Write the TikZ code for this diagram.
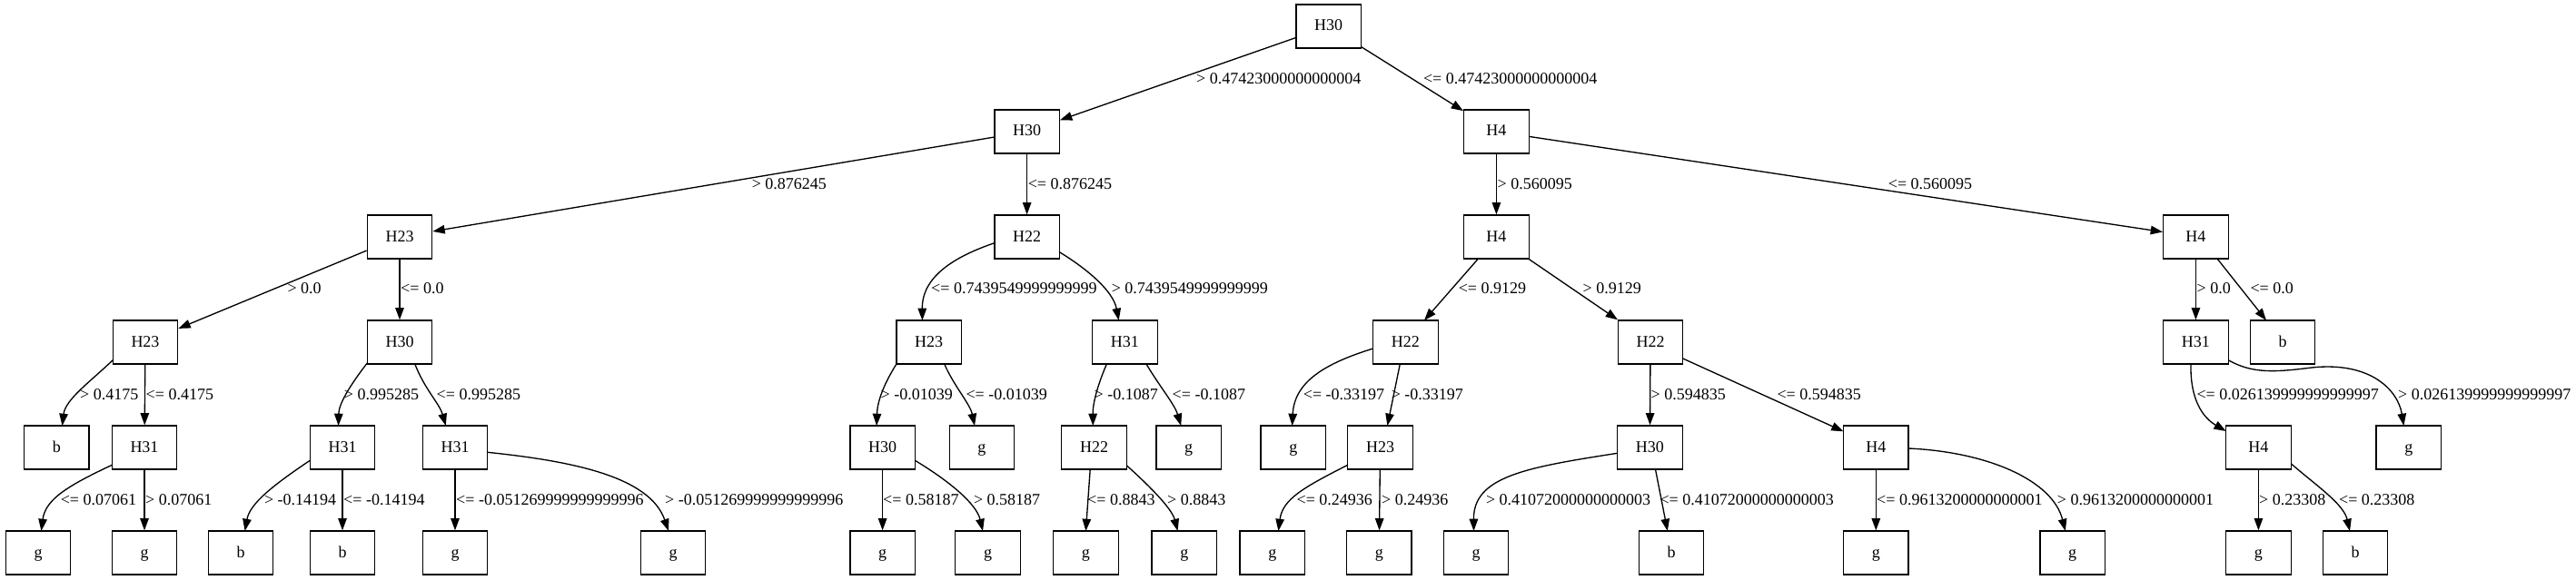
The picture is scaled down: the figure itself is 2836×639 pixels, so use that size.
\documentclass[tikz,border=0pt]{standalone}
\usepackage{fontspec}
\setmainfont{Liberation Serif}
\usetikzlibrary{arrows.meta,calc}
\tikzset{
  box/.style={draw, line width=1.33pt, minimum width=71.5pt, minimum height=48pt, inner sep=0pt,
    text height=12pt, text depth=2pt, font=\fontsize{18}{22}\selectfont},
  edge/.style={draw, line width=1.33pt, -{Triangle[length=13.3pt,width=9.5pt]}},
  lbl/.style={anchor=west, inner sep=0pt, text height=12.2pt, text depth=0pt, font=\fontsize{18}{22}\selectfont},
}
\begin{document}
\begin{tikzpicture}[x=1pt,y=-1pt]
\useasboundingbox (0,0) rectangle (2836,639);
% level 0
\node[box] (n0) at (1462.6,29) {H30};
% level 1
\node[box] (n1) at (1130.6,145) {H30};
\node[box] (n2) at (1647.4,145) {H4};
% level 2
\node[box] (n3) at (440,261) {H23};
\node[box] (n4) at (1130.6,261) {H22};
\node[box] (n5) at (1647.4,261) {H4};
\node[box] (n6) at (2417.4,261) {H4};
% level 3
\node[box] (n7) at (160,377) {H23};
\node[box] (n8) at (440,377) {H30};
\node[box] (n9) at (1022.7,377) {H23};
\node[box] (n10) at (1238.4,377) {H31};
\node[box] (n11) at (1547.4,377) {H22};
\node[box] (n12) at (1817,377) {H22};
\node[box] (n13) at (2417.4,377) {H31};
\node[box] (n14) at (2513,377) {b};
% level 4
\node[box] (n15) at (62.4,493) {b};
\node[box] (n16) at (159,493) {H31};
\node[box] (n17) at (377,493) {H31};
\node[box] (n18) at (501,493) {H31};
\node[box] (n19) at (971.6,493) {H30};
\node[box] (n20) at (1080.9,493) {g};
\node[box] (n21) at (1204.5,493) {H22};
\node[box] (n22) at (1308.7,493) {g};
\node[box] (n23) at (1423.8,493) {g};
\node[box] (n24) at (1519.5,493) {H23};
\node[box] (n25) at (1816.4,493) {H30};
\node[box] (n26) at (2065.3,493) {H4};
\node[box] (n27) at (2486.4,493) {H4};
\node[box] (n28) at (2651.8,493) {g};
% level 5
\node[box] (n29) at (42,609) {g};
\node[box] (n30) at (159,609) {g};
\node[box] (n31) at (265,609) {b};
\node[box] (n32) at (377,609) {b};
\node[box] (n33) at (501,609) {g};
\node[box] (n34) at (741,609) {g};
\node[box] (n35) at (971.6,609) {g};
\node[box] (n36) at (1087.5,609) {g};
\node[box] (n37) at (1195.4,609) {g};
\node[box] (n38) at (1303.8,609) {g};
\node[box] (n39) at (1400.8,609) {g};
\node[box] (n40) at (1518.3,609) {g};
\node[box] (n41) at (1625,609) {g};
\node[box] (n42) at (1840,609) {b};
\node[box] (n43) at (2065.3,609) {g};
\node[box] (n44) at (2281.6,609) {g};
\node[box] (n45) at (2486.4,609) {g};
\node[box] (n46) at (2593,609) {b};

% ---- edges level 0 -> 1
\draw[edge] (n0) -- (n1);
\node[lbl] (l1) at (1317,86.5) {> 0.47423000000000004};
\draw[edge] (n0) -- (n2);
\node[lbl] (l2) at (1566.8,86.5) {<= 0.47423000000000004};
% ---- level 1 -> 2
\draw[edge] (n1) -- (n3);
\node[lbl] (l3) at (827.6,202.3) {> 0.876245};
\draw[edge] (n1) -- (n4);
\node[lbl] (l4) at (1131.6,202.3) {<= 0.876245};
\draw[edge] (n2) -- (n5);
\node[lbl] (l5) at (1648.4,202.3) {> 0.560095};
\draw[edge] (n2) -- (n6);
\node[lbl] (l6) at (2078.7,202.3) {<= 0.560095};
% ---- level 2 -> 3
\draw[edge] (n3) -- (n7);
\node[lbl] (l7) at (316.3,317) {> 0.0};
\draw[edge] (n3) -- (n8);
\node[lbl] (l8) at (441,317) {<= 0.0};
\draw[edge] ($(n4)+(-35.75,6.7)$) .. controls (1050,283) and (1015,305) .. ($(n9)+(-7.3,-24)$);
\node[lbl] (l9) at (1025,317) {<= 0.7439549999999999};
\draw[edge] ($(n4)+(35.75,16.7)$) .. controls (1190,292) and (1225,318) .. ($(n10)+(-6.7,-24)$);
\node[lbl] (l10) at (1223.6,317) {> 0.7439549999999999};
\draw[edge] ($(n5)+(-20,24)$) -- ($(n11)+(20.6,-24)$);
\node[lbl] (l11) at (1605.6,317) {<= 0.9129};
\draw[edge] (n5) -- (n12);
\node[lbl] (l12) at (1742.5,317) {> 0.9129};
\draw[edge] (n6) -- (n13);
\node[lbl] (l13) at (2418.4,317) {> 0.0};
\draw[edge] ($(n6)+(23.6,24)$) -- ($(n14)+(-18,-24)$);
\node[lbl] (l14) at (2477.3,317) {<= 0.0};
% ---- level 3 -> 4
\draw[edge] ($(n7)+(-35.75,19.7)$) .. controls (100,420) and (72,440) .. ($(n15)+(6.1,-24)$);
\node[lbl] (l15) at (87.9,434.3) {> 0.4175};
\draw[edge] (n7) -- (n16);
\node[lbl] (l16) at (160.5,434.3) {<= 0.4175};
\draw[edge] ($(n8)+(-35.75,23)$) .. controls (385,425) and (373,445) .. ($(n17)+(-4.4,-24)$);
\node[lbl] (l17) at (378.7,434.3) {> 0.995285};
\draw[edge] ($(n8)+(16.8,24)$) .. controls (467,428) and (484,445) .. ($(n18)+(-10.2,-24)$);
\node[lbl] (l18) at (480.5,434.3) {<= 0.995285};
\draw[edge] ($(n9)+(-35.75,24)$) .. controls (975,420) and (966,440) .. ($(n19)+(-6.5,-24)$);
\node[lbl] (l19) at (969.4,434.3) {> -0.01039};
\draw[edge] ($(n9)+(17,24)$) .. controls (1050,425) and (1068,445) .. ($(n20)+(-7.9,-24)$);
\node[lbl] (l20) at (1063.3,434.3) {<= -0.01039};
\draw[edge] ($(n10)+(-20,24)$) .. controls (1208,425) and (1203,445) .. ($(n21)+(-1.2,-24)$);
\node[lbl] (l21) at (1204.5,434.3) {> -0.1087};
\draw[edge] ($(n10)+(23.6,24)$) .. controls (1276,425) and (1293,445) .. ($(n22)+(-8.5,-24)$);
\node[lbl] (l22) at (1290.5,434.3) {<= -0.1087};
\draw[edge] ($(n11)+(-35.75,7)$) .. controls (1460,400) and (1425,420) .. ($(n23)+(-1.2,-24)$);
\node[lbl] (l23) at (1434.7,434.3) {<= -0.33197};
\draw[edge] ($(n11)+(-6.1,24)$) -- ($(n24)+(7.9,-24)$);
\node[lbl] (l24) at (1531.6,434.3) {> -0.33197};
\draw[edge] (n12) -- (n25);
\node[lbl] (l25) at (1817.5,434.3) {> 0.594835};
\draw[edge] ($(n12)+(35.75,18)$) -- ($(n26)+(-35.75,-17.7)$);
\node[lbl] (l26) at (1956.3,434.3) {<= 0.594835};
\draw[edge] ($(n13)+(-5.4,24)$) .. controls (2411,440) and (2425,460) .. ($(n27)+(-35.75,-18)$);
\node[lbl] (l27) at (2418.3,434.3) {<= 0.026139999999999997};
\draw[edge] ($(n13)+(35.75,19.7)$) .. controls (2480,412) and (2505,410) .. (2545,405)
  .. controls (2610,398) and (2640,430) .. ($(n28)+(-5.4,-24)$);
\node[lbl] (l28) at (2640,434.3) {> 0.026139999999999997};
% ---- level 4 -> 5
\draw[edge] ($(n16)+(-35.75,19.3)$) .. controls (75,535) and (50,550) .. ($(n29)+(3.4,-24)$);
\node[lbl] (l29) at (66.6,550) {<= 0.07061};
\draw[edge] (n16) -- (n30);
\node[lbl] (l30) at (160,550) {> 0.07061};
\draw[edge] ($(n17)+(-35.75,14.3)$) .. controls (300,535) and (275,555) .. ($(n31)+(4.6,-24)$);
\node[lbl] (l31) at (290.8,550) {> -0.14194};
\draw[edge] (n17) -- (n32);
\node[lbl] (l32) at (378,550) {<= -0.14194};
\draw[edge] (n18) -- (n33);
\node[lbl] (l33) at (502,550) {<= -0.051269999999999996};
\draw[edge] ($(n18)+(35.75,5.3)$) .. controls (630,508) and (715,525) .. ($(n34)+(-4.9,-24)$);
\node[lbl] (l34) at (732,550) {> -0.051269999999999996};
\draw[edge] (n19) -- (n35);
\node[lbl] (l35) at (972,550) {<= 0.58187};
\draw[edge] ($(n19)+(35.75,14.3)$) .. controls (1045,530) and (1075,555) .. ($(n36)+(-5.5,-24)$);
\node[lbl] (l36) at (1071.8,550) {> 0.58187};
\draw[edge] ($(n21)+(-4.3,24)$) -- ($(n37)+(0,-24)$);
\node[lbl] (l37) at (1197,550) {<= 0.8843};
\draw[edge] ($(n21)+(35.75,19.7)$) .. controls (1265,535) and (1290,560) .. ($(n38)+(-7.2,-24)$);
\node[lbl] (l38) at (1285,550) {> 0.8843};
\draw[edge] ($(n24)+(-35.75,19.3)$) .. controls (1435,537) and (1412,550) .. ($(n39)+(6.6,-24)$);
\node[lbl] (l39) at (1427.4,550) {<= 0.24936};
\draw[edge] (n24) -- (n40);
\node[lbl] (l40) at (1521,550) {> 0.24936};
\draw[edge] ($(n25)+(-35.75,6.3)$) .. controls (1680,515) and (1622,525) .. ($(n41)+(-2.5,-24)$);
\node[lbl] (l41) at (1635.8,550) {> 0.41072000000000003};
\draw[edge] ($(n25)+(6.1,24)$) -- ($(n42)+(-4.2,-24)$);
\node[lbl] (l42) at (1827.3,550) {<= 0.41072000000000003};
\draw[edge] (n26) -- (n43);
\node[lbl] (l43) at (2066,550) {<= 0.9613200000000001};
\draw[edge] ($(n26)+(35.75,1)$) .. controls (2190,498) and (2260,530) .. ($(n44)+(-7.8,-24)$);
\node[lbl] (l44) at (2264.7,550) {> 0.9613200000000001};
\draw[edge] (n27) -- (n45);
\node[lbl] (l45) at (2487,550) {> 0.23308};
\draw[edge] ($(n27)+(35.75,17.7)$) .. controls (2550,535) and (2580,555) .. ($(n46)+(-6,-24)$);
\node[lbl] (l46) at (2574.9,550) {<= 0.23308};
\end{tikzpicture}
\end{document}
